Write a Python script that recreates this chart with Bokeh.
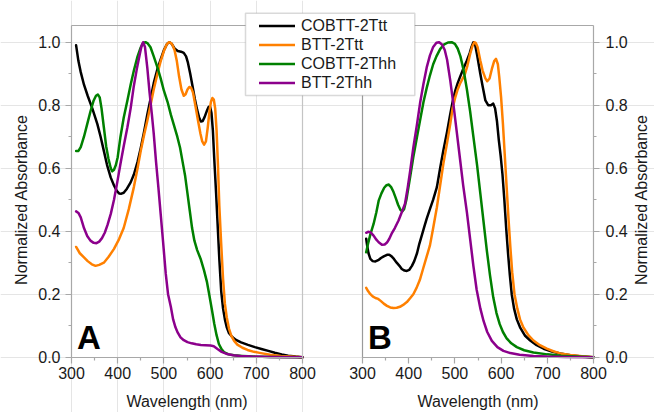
import math
from bokeh.plotting import figure
from bokeh.models import (Range1d, LinearAxis, FixedTicker, SingleIntervalTicker,
                          PrintfTickFormatter, Legend, LegendItem, BoxAnnotation, Label)
from bokeh.embed import file_html
from bokeh.resources import INLINE

# ---------------- data ----------------
series_names = ["COBTT-2Ttt", "BTT-2Ttt", "COBTT-2Thh", "BTT-2Thh"]
series_colors = ["#000000", "#ff8000", "#008000", "#8c008c"]

x_ticks = [300, 400, 500, 600, 700, 800]
x_minor_ticks = [350, 450, 550, 650, 750]

# Panel A
a_cobtt_ttt_x = [310, 315, 320, 327, 335, 345, 356, 363, 370, 377, 385, 392, 398, 403, 408, 413, 420, 428, 435, 443,
                 450, 457, 464, 471, 478, 486, 493, 500, 507, 512, 517, 523, 530, 537, 543, 548, 552, 557, 562, 567,
                 572, 576, 580, 584, 588, 593, 597, 600, 603, 606, 609, 613, 617, 620, 624, 628, 632, 636, 641, 648,
                 656, 667, 682, 697, 711, 726, 740, 755, 769, 785, 800]
a_cobtt_ttt_y = [0.99, 0.94, 0.905, 0.865, 0.83, 0.79, 0.74, 0.70, 0.655, 0.61, 0.57, 0.545, 0.528, 0.52, 0.519, 0.522,
                 0.535, 0.555, 0.58, 0.62, 0.665, 0.715, 0.77, 0.82, 0.87, 0.915, 0.945, 0.975, 0.995, 1.0,
                 0.995, 0.98, 0.972, 0.97, 0.966, 0.955, 0.935, 0.90, 0.86, 0.82, 0.785, 0.762, 0.748, 0.75, 0.762,
                 0.782, 0.795, 0.795, 0.775, 0.72, 0.63, 0.52, 0.40, 0.31, 0.21, 0.155, 0.12, 0.095, 0.076, 0.064,
                 0.055, 0.047, 0.039, 0.032, 0.026, 0.02, 0.014, 0.009, 0.005, 0.002, 0.0]

a_btt_ttt_x = [310, 318, 327, 335, 344, 352, 360, 370, 380, 392, 403, 413, 424, 435, 443, 450, 457, 464, 471, 478,
               486, 493, 500, 506, 511, 515, 519, 523, 528, 533, 538, 543, 547, 551, 555, 559, 563, 568, 574, 579,
               583, 587, 591, 595, 599, 602, 605, 608, 611, 614, 617, 620, 624, 628, 632, 636, 641, 646, 652, 659,
               670, 681, 695, 710, 730, 753, 775, 800]
a_btt_ttt_y = [0.35, 0.33, 0.317, 0.305, 0.295, 0.29, 0.293, 0.30, 0.318, 0.344, 0.375, 0.41, 0.47, 0.54, 0.60, 0.656,
               0.705, 0.75, 0.80, 0.85, 0.90, 0.94, 0.972, 0.993, 1.0, 0.998, 0.99, 0.975, 0.94, 0.89,
               0.85, 0.83, 0.835, 0.85, 0.858, 0.855, 0.84, 0.80, 0.75, 0.71, 0.685, 0.675, 0.685, 0.73, 0.785,
               0.812, 0.823, 0.818, 0.79, 0.72, 0.61, 0.48, 0.36, 0.25, 0.17, 0.127, 0.09, 0.068, 0.052, 0.04,
               0.03, 0.023, 0.017, 0.013, 0.008, 0.004, 0.002, 0.0]

a_cobtt_thh_x = [310, 315, 320, 327, 334, 341, 348, 353, 357, 361, 365, 370, 375, 380, 385, 388, 392, 396, 400, 406,
                 413, 421, 428, 435, 443, 450, 455, 460, 465, 471, 478, 486, 493, 500, 508, 515, 522, 529, 535, 540,
                 546, 551, 556, 561, 566, 572, 580, 587, 593, 598, 604, 609, 614, 619, 625, 630, 640, 652, 670, 695,
                 730, 800]
a_cobtt_thh_y = [0.655, 0.655, 0.667, 0.70, 0.74, 0.78, 0.815, 0.83, 0.834, 0.825, 0.79, 0.73, 0.67, 0.63, 0.60, 0.59,
                 0.595, 0.61, 0.635, 0.70, 0.76, 0.815, 0.865, 0.91, 0.955, 0.984, 0.997, 1.0, 0.996, 0.984,
                 0.955, 0.92, 0.885, 0.846, 0.81, 0.77, 0.735, 0.70, 0.665, 0.624, 0.575, 0.52, 0.465, 0.41, 0.37,
                 0.34, 0.31, 0.275, 0.24, 0.20, 0.15, 0.106, 0.07, 0.042, 0.025, 0.016, 0.009, 0.006, 0.004, 0.002,
                 0.001, 0.0]

a_btt_thh_x = [310, 315, 320, 327, 334, 341, 348, 354, 360, 366, 372, 378, 385, 392, 399, 406, 413, 421, 428, 435,
               442, 448, 452, 455, 459, 464, 469, 474, 478, 483, 488, 493, 498, 504, 509, 515, 520, 525, 530, 536,
               543, 551, 560, 570, 580, 590, 601, 608, 616, 625, 637, 650, 666, 690, 730, 800]
a_btt_thh_y = [0.463, 0.458, 0.444, 0.41, 0.385, 0.37, 0.363, 0.362, 0.367, 0.378, 0.395, 0.42, 0.455, 0.50, 0.555,
               0.614, 0.67, 0.73, 0.79, 0.862, 0.92, 0.963, 0.99, 1.0, 0.985, 0.92, 0.84, 0.77, 0.71, 0.62,
               0.54, 0.455, 0.37, 0.265, 0.2, 0.16, 0.12, 0.095, 0.078, 0.063, 0.054, 0.048, 0.044, 0.041, 0.039,
               0.038, 0.037, 0.035, 0.026, 0.017, 0.01, 0.006, 0.004, 0.002, 0.001, 0.0]

# Panel B
b_cobtt_ttt_x = [308, 310, 313, 317, 322, 328, 334, 340, 346, 353, 358, 363, 368, 374, 380, 385, 391, 396, 401, 407,
                 412, 418, 423, 429, 434, 439, 447, 453, 461, 468, 475, 483, 490, 495, 501, 506, 511, 518, 526, 532,
                 536, 540, 544, 548, 555, 560, 566, 572, 578, 583, 587, 591, 595, 599, 603, 607, 611, 615, 619, 623,
                 628, 634, 641, 652, 663, 677, 692, 710, 728, 750, 775, 800]
b_cobtt_ttt_y = [0.376, 0.355, 0.33, 0.312, 0.305, 0.304, 0.308, 0.315, 0.32, 0.325, 0.325, 0.32, 0.312, 0.30, 0.29,
                 0.28, 0.275, 0.274, 0.277, 0.29, 0.305, 0.33, 0.36, 0.39, 0.415, 0.44, 0.475, 0.50, 0.54, 0.60,
                 0.656, 0.715, 0.772, 0.81, 0.847, 0.87, 0.889, 0.915, 0.942, 0.965, 0.985, 1.0, 0.99, 0.96, 0.90,
                 0.86, 0.815, 0.80, 0.80, 0.805, 0.79, 0.75, 0.69, 0.64, 0.58, 0.50, 0.41, 0.33, 0.26, 0.20,
                 0.155, 0.12, 0.095, 0.068, 0.053, 0.038, 0.027, 0.018, 0.012, 0.006, 0.002, 0.0]

b_btt_ttt_x = [308, 312, 317, 322, 328, 334, 340, 346, 353, 360, 367, 374, 381, 388, 396, 403, 410, 417, 424, 431,
               439, 446, 453, 461, 468, 475, 483, 490, 495, 501, 506, 511, 517, 522, 527, 533, 538, 542, 545, 549,
               555, 560, 566, 570, 575, 580, 585, 589, 593, 596, 600, 604, 608, 612, 616, 620, 624, 629, 635, 641,
               648, 659, 670, 684, 699, 713, 728, 750, 775, 800]
b_btt_ttt_y = [0.22, 0.21, 0.20, 0.193, 0.188, 0.185, 0.178, 0.17, 0.163, 0.158, 0.156, 0.157, 0.16, 0.166, 0.175,
               0.187, 0.20, 0.22, 0.245, 0.28, 0.32, 0.355, 0.41, 0.476, 0.545, 0.614, 0.68, 0.741, 0.79, 0.826,
               0.85, 0.868, 0.885, 0.90, 0.925, 0.963, 0.988, 1.0, 0.998, 0.985, 0.942, 0.91, 0.885, 0.876, 0.885,
               0.915, 0.94, 0.947, 0.93, 0.89, 0.825, 0.74, 0.64, 0.54, 0.44, 0.35, 0.27, 0.20, 0.155, 0.12,
               0.095, 0.07, 0.053, 0.038, 0.027, 0.019, 0.012, 0.007, 0.003, 0.0]

b_cobtt_thh_x = [308, 312, 317, 324, 330, 335, 341, 347, 352, 357, 362, 367, 372, 377, 382, 386, 390, 395, 403, 410,
                 418, 425, 432, 439, 446, 453, 460, 468, 476, 485, 493, 500, 506, 512, 519, 526, 533, 540, 548, 555,
                 562, 569, 576, 583, 590, 597, 604, 612, 622, 634, 650, 670, 700, 730, 765, 800]
b_cobtt_thh_y = [0.333, 0.36, 0.39, 0.423, 0.46, 0.497, 0.52, 0.538, 0.546, 0.548, 0.54, 0.525, 0.505, 0.484, 0.468,
                 0.463, 0.47, 0.50, 0.571, 0.635, 0.70, 0.755, 0.81, 0.855, 0.895, 0.93, 0.955, 0.978, 0.992, 0.999,
                 1.0, 0.995, 0.98, 0.955, 0.91, 0.85, 0.78, 0.70, 0.61, 0.52, 0.43, 0.34, 0.26, 0.19, 0.14,
                 0.105, 0.08, 0.06, 0.044, 0.032, 0.022, 0.015, 0.009, 0.005, 0.002, 0.0]

b_btt_thh_x = [308, 312, 317, 324, 330, 335, 342, 348, 353, 358, 363, 370, 378, 385, 392, 398, 403, 410, 418, 425,
               432, 439, 446, 453, 460, 466, 472, 478, 483, 490, 497, 504, 511, 518, 526, 533, 540, 547, 555, 562,
               570, 580, 592, 605, 620, 640, 670, 700, 740, 800]
b_btt_thh_y = [0.395, 0.398, 0.397, 0.386, 0.373, 0.365, 0.357, 0.358, 0.364, 0.376, 0.392, 0.41, 0.434, 0.46, 0.487,
               0.54, 0.59, 0.665, 0.74, 0.81, 0.868, 0.92, 0.958, 0.985, 0.998, 1.0, 0.993, 0.975, 0.945, 0.878,
               0.80, 0.715, 0.63, 0.545, 0.46, 0.375, 0.29, 0.215, 0.155, 0.115, 0.08, 0.052, 0.032, 0.02, 0.013,
               0.008, 0.004, 0.002, 0.001, 0.0]

panel_a = [(a_cobtt_ttt_x, a_cobtt_ttt_y), (a_btt_ttt_x, a_btt_ttt_y),
           (a_cobtt_thh_x, a_cobtt_thh_y), (a_btt_thh_x, a_btt_thh_y)]
panel_b = [(b_cobtt_ttt_x, b_cobtt_ttt_y), (b_btt_ttt_x, b_btt_ttt_y),
           (b_cobtt_thh_x, b_cobtt_thh_y), (b_btt_thh_x, b_btt_thh_y)]

# ---------------- layout (pixels) ----------------
W, H = 654, 412
a_left_px = 71.0              # pixel column of 300 nm in panel A
b_right_px = 593.0            # pixel column of 800 nm in panel B
panel_px = 231.0              # width of a panel
px_per_nm = panel_px / 500.0
unit_px = 315.0               # pixels for absorbance 1.0
y0_px = 356.7                 # pixel row of absorbance 0
top_px = 25.0                 # pixel row of the panels' top edge

# one frame covers the whole canvas; each panel has its own x range
x_a = Range1d(300 - a_left_px / px_per_nm, 300 + (W - a_left_px) / px_per_nm)
x_b = Range1d(800 - b_right_px / px_per_nm, 800 + (W - b_right_px) / px_per_nm)
y_r = Range1d(-(H - y0_px) / unit_px, y0_px / unit_px)
y_top = (y0_px - top_px) / unit_px


def nm_a(px):            # panel-A wavelength at a pixel column
    return 300 + (px - a_left_px) / px_per_nm


def nm_b(px):            # panel-B wavelength at a pixel column
    return 800 + (px - b_right_px) / px_per_nm


def abs_at(py):          # absorbance at a pixel row
    return (y0_px - py) / unit_px


FONT = "Liberation Sans"
TXT = "#1a1a1a"
AXIS = "#a8a8a8"

p = figure(width=W, height=H, x_range=x_a, y_range=y_r, output_backend="svg",
           toolbar_location=None, title=None, x_axis_location=None, y_axis_location=None,
           min_border_left=0, min_border_right=0, min_border_top=0, min_border_bottom=0)
p.extra_x_ranges = {"b": x_b}
p.outline_line_color = None
p.background_fill_color = "white"
p.border_fill_color = "white"


def style_axis(ax):
    ax.axis_line_color = AXIS
    ax.axis_line_width = 1.2
    ax.major_tick_line_color = AXIS
    ax.minor_tick_line_color = AXIS
    ax.major_tick_line_width = 1.2
    ax.minor_tick_line_width = 1.2
    ax.major_tick_in = 0
    ax.major_tick_out = 6
    ax.minor_tick_in = 0
    ax.minor_tick_out = 3
    ax.major_label_text_font = FONT
    ax.major_label_text_font_size = "16px"
    ax.major_label_text_color = TXT
    ax.axis_label_text_font = FONT
    ax.axis_label_text_font_size = "16px"
    ax.axis_label_text_font_style = "normal"
    ax.axis_label_text_color = TXT


# bottom axes of both panels at absorbance 0
for rng in ("default", "b"):
    ax = LinearAxis(x_range_name=rng, fixed_location=0, bounds=(300, 800),
                    ticker=FixedTicker(ticks=x_ticks, minor_ticks=x_minor_ticks),
                    axis_label="Wavelength (nm)")
    style_axis(ax)
    ax.major_label_standoff = 4
    ax.axis_label_standoff = 10
    p.add_layout(ax, "below")

# top edges of both panels
for rng in ("default", "b"):
    p.add_layout(LinearAxis(x_range_name=rng, fixed_location=y_top, bounds=(300, 800),
                            ticker=FixedTicker(ticks=[]), axis_line_color=AXIS,
                            axis_line_width=1.2), "above")

# inner vertical edges: right of A, left of B
p.add_layout(LinearAxis(fixed_location=800, bounds=(0, y_top), ticker=FixedTicker(ticks=[]),
                        axis_line_color="#c4c4c4", axis_line_width=1.2), "right")
p.add_layout(LinearAxis(x_range_name="b", fixed_location=300, bounds=(0, y_top),
                        ticker=FixedTicker(ticks=[]), axis_line_color="#9a9a9a",
                        axis_line_width=1.2), "left")

# outer y axes with absorbance ticks
ya_axis = LinearAxis(fixed_location=300, bounds=(0, y_top),
                     ticker=SingleIntervalTicker(interval=0.2, num_minor_ticks=2),
                     formatter=PrintfTickFormatter(format="%.1f"))
style_axis(ya_axis)
ya_axis.major_label_standoff = 5
p.add_layout(ya_axis, "left")

yb_axis = LinearAxis(x_range_name="b", fixed_location=800, bounds=(0, y_top),
                     ticker=SingleIntervalTicker(interval=0.2, num_minor_ticks=2),
                     formatter=PrintfTickFormatter(format="%.1f"))
style_axis(yb_axis)
yb_axis.major_label_standoff = 6
p.add_layout(yb_axis, "right")

# y axis titles (both read bottom to top)
label_y = abs_at(199)
p.add_layout(Label(x=nm_a(21), y=label_y, text="Normalized Absorbance", angle=math.pi / 2,
                   text_align="center", text_baseline="middle", text_font=FONT,
                   text_font_size="16px", text_color=TXT))
p.add_layout(Label(x=nm_b(641), y=label_y, x_range_name="b", text="Normalized Absorbance",
                   angle=math.pi / 2, text_align="center", text_baseline="middle", text_font=FONT,
                   text_font_size="16px", text_color=TXT))

# curves
renderers = []
for (xs, ys), col in zip(panel_a, series_colors):
    r = p.line(xs, ys, line_color=col, line_width=2.5, line_join="round", line_cap="round")
    renderers.append(r)
for (xs, ys), col in zip(panel_b, series_colors):
    p.line(xs, ys, line_color=col, line_width=2.5, line_join="round", line_cap="round",
           x_range_name="b")

# panel letters
p.add_layout(Label(x=nm_a(76.5), y=abs_at(337), text="A", text_font=FONT, text_font_style="bold",
                   text_font_size="33px", text_color="#000000", text_baseline="alphabetic"))
p.add_layout(Label(x=nm_b(367.5), y=abs_at(337), x_range_name="b", text="B", text_font=FONT,
                   text_font_style="bold", text_font_size="33px", text_color="#000000",
                   text_baseline="alphabetic"))

# legend frame and legend
p.add_layout(BoxAnnotation(left=nm_a(245), right=nm_a(414.3), top=abs_at(12.7), bottom=abs_at(95),
                           fill_color="white", fill_alpha=1.0,
                           line_color="#808080", line_width=1.5))

legend = Legend(items=[LegendItem(label=n, renderers=[r]) for n, r in zip(series_names, renderers)],
                location=(259, H - 92), padding=0, spacing=0, margin=0,
                glyph_width=36, glyph_height=19, label_height=19, label_standoff=6,
                label_text_font=FONT, label_text_font_size="16px", label_text_color=TXT,
                border_line_color=None, background_fill_alpha=0.0)
p.add_layout(legend, "center")

open("out.html", "w").write(file_html(p, INLINE))
